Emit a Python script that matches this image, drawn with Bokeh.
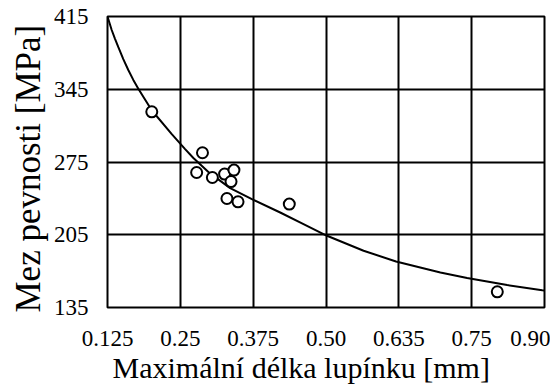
from bokeh.plotting import figure
from bokeh.models import FixedTicker, Range1d, Title
from bokeh.embed import file_html
from bokeh.resources import INLINE

# Measured points
length_mm = [0.201, 0.288, 0.278, 0.305, 0.326, 0.342, 0.337, 0.330, 0.349, 0.437, 0.794]
strength_mpa = [323.3, 283.9, 264.9, 260.1, 263.4, 267.2, 256.2, 239.9, 236.7, 234.5, 150.1]

# Trend curve
curve_x = [0.125, 0.1322, 0.1379, 0.1436, 0.1521, 0.1607, 0.1693, 0.1779, 0.2009, 0.2353,
           0.2582, 0.2724, 0.3000, 0.3355, 0.3728, 0.4214, 0.4614, 0.5017, 0.5645, 0.6202,
           0.6963, 0.7422, 0.8109, 0.8711, 0.875]
curve_y = [415.0, 402.0, 393.5, 385.5, 374.0, 363.5, 354.0, 345.5, 324.8, 301.8,
           287.4, 278.8, 264.5, 249.9, 239.3, 226.4, 215.3, 204.0, 189.6, 179.3,
           168.7, 163.3, 156.6, 151.7, 151.4]

x_ticks = [0.125, 0.25, 0.375, 0.5, 0.625, 0.75, 0.875]
x_tick_labels = ["0.125", "0.25", "0.375", "0.50", "0.635", "0.75", "0.90"]
y_ticks = [135, 205, 275, 345, 415]
y_tick_labels = ["135", "205", "275", "345", "415"]

FONT = "Liberation Serif, Times New Roman, serif"
TITLE_FONT = "Liberation Serif"

p = figure(width=550, height=389, output_backend="svg", toolbar_location=None,
           x_range=Range1d(0.125, 0.875), y_range=Range1d(135, 415),
           min_border_left=107, min_border_right=6, min_border_top=16, min_border_bottom=82)

p.background_fill_color = "white"
p.border_fill_color = "white"
p.outline_line_color = "black"
p.outline_line_width = 2

p.xaxis.ticker = FixedTicker(ticks=x_ticks)
p.yaxis.ticker = FixedTicker(ticks=y_ticks)
p.xaxis.major_label_overrides = {t: l for t, l in zip(x_ticks, x_tick_labels)}
p.yaxis.major_label_overrides = {t: l for t, l in zip(y_ticks, y_tick_labels)}

for ax in (p.xaxis, p.yaxis):
    ax.axis_line_color = None
    ax.major_tick_line_color = None
    ax.minor_tick_line_color = None
    ax.major_tick_out = 0
    ax.major_label_text_font = FONT
    ax.major_label_text_font_size = "23px"
    ax.major_label_text_color = "black"

p.xaxis.major_label_standoff = 23
p.yaxis.major_label_standoff = 19

ytitle = Title(text="Mez pevnosti [MPa]", align="left", offset=-5,
               vertical_align="bottom", standoff=6,
               text_font=TITLE_FONT, text_font_size="35px", text_font_style="normal",
               text_color="black")
p.add_layout(ytitle, "left")

xtitle = Title(text="Maximální délka lupínku [mm]", align="left", offset=5,
               vertical_align="bottom", standoff=0,
               text_font=TITLE_FONT, text_font_size="30px", text_font_style="normal",
               text_color="black")
p.add_layout(xtitle, "below")

p.xgrid.grid_line_color = "black"
p.ygrid.grid_line_color = "black"
p.xgrid.grid_line_width = 2
p.ygrid.grid_line_width = 2

p.line(curve_x, curve_y, line_color="black", line_width=2)
p.scatter(length_mm, strength_mpa, marker="circle", size=11, fill_color="white",
          line_color="black", line_width=2)

open("out.html", "w").write(file_html(p, INLINE))
